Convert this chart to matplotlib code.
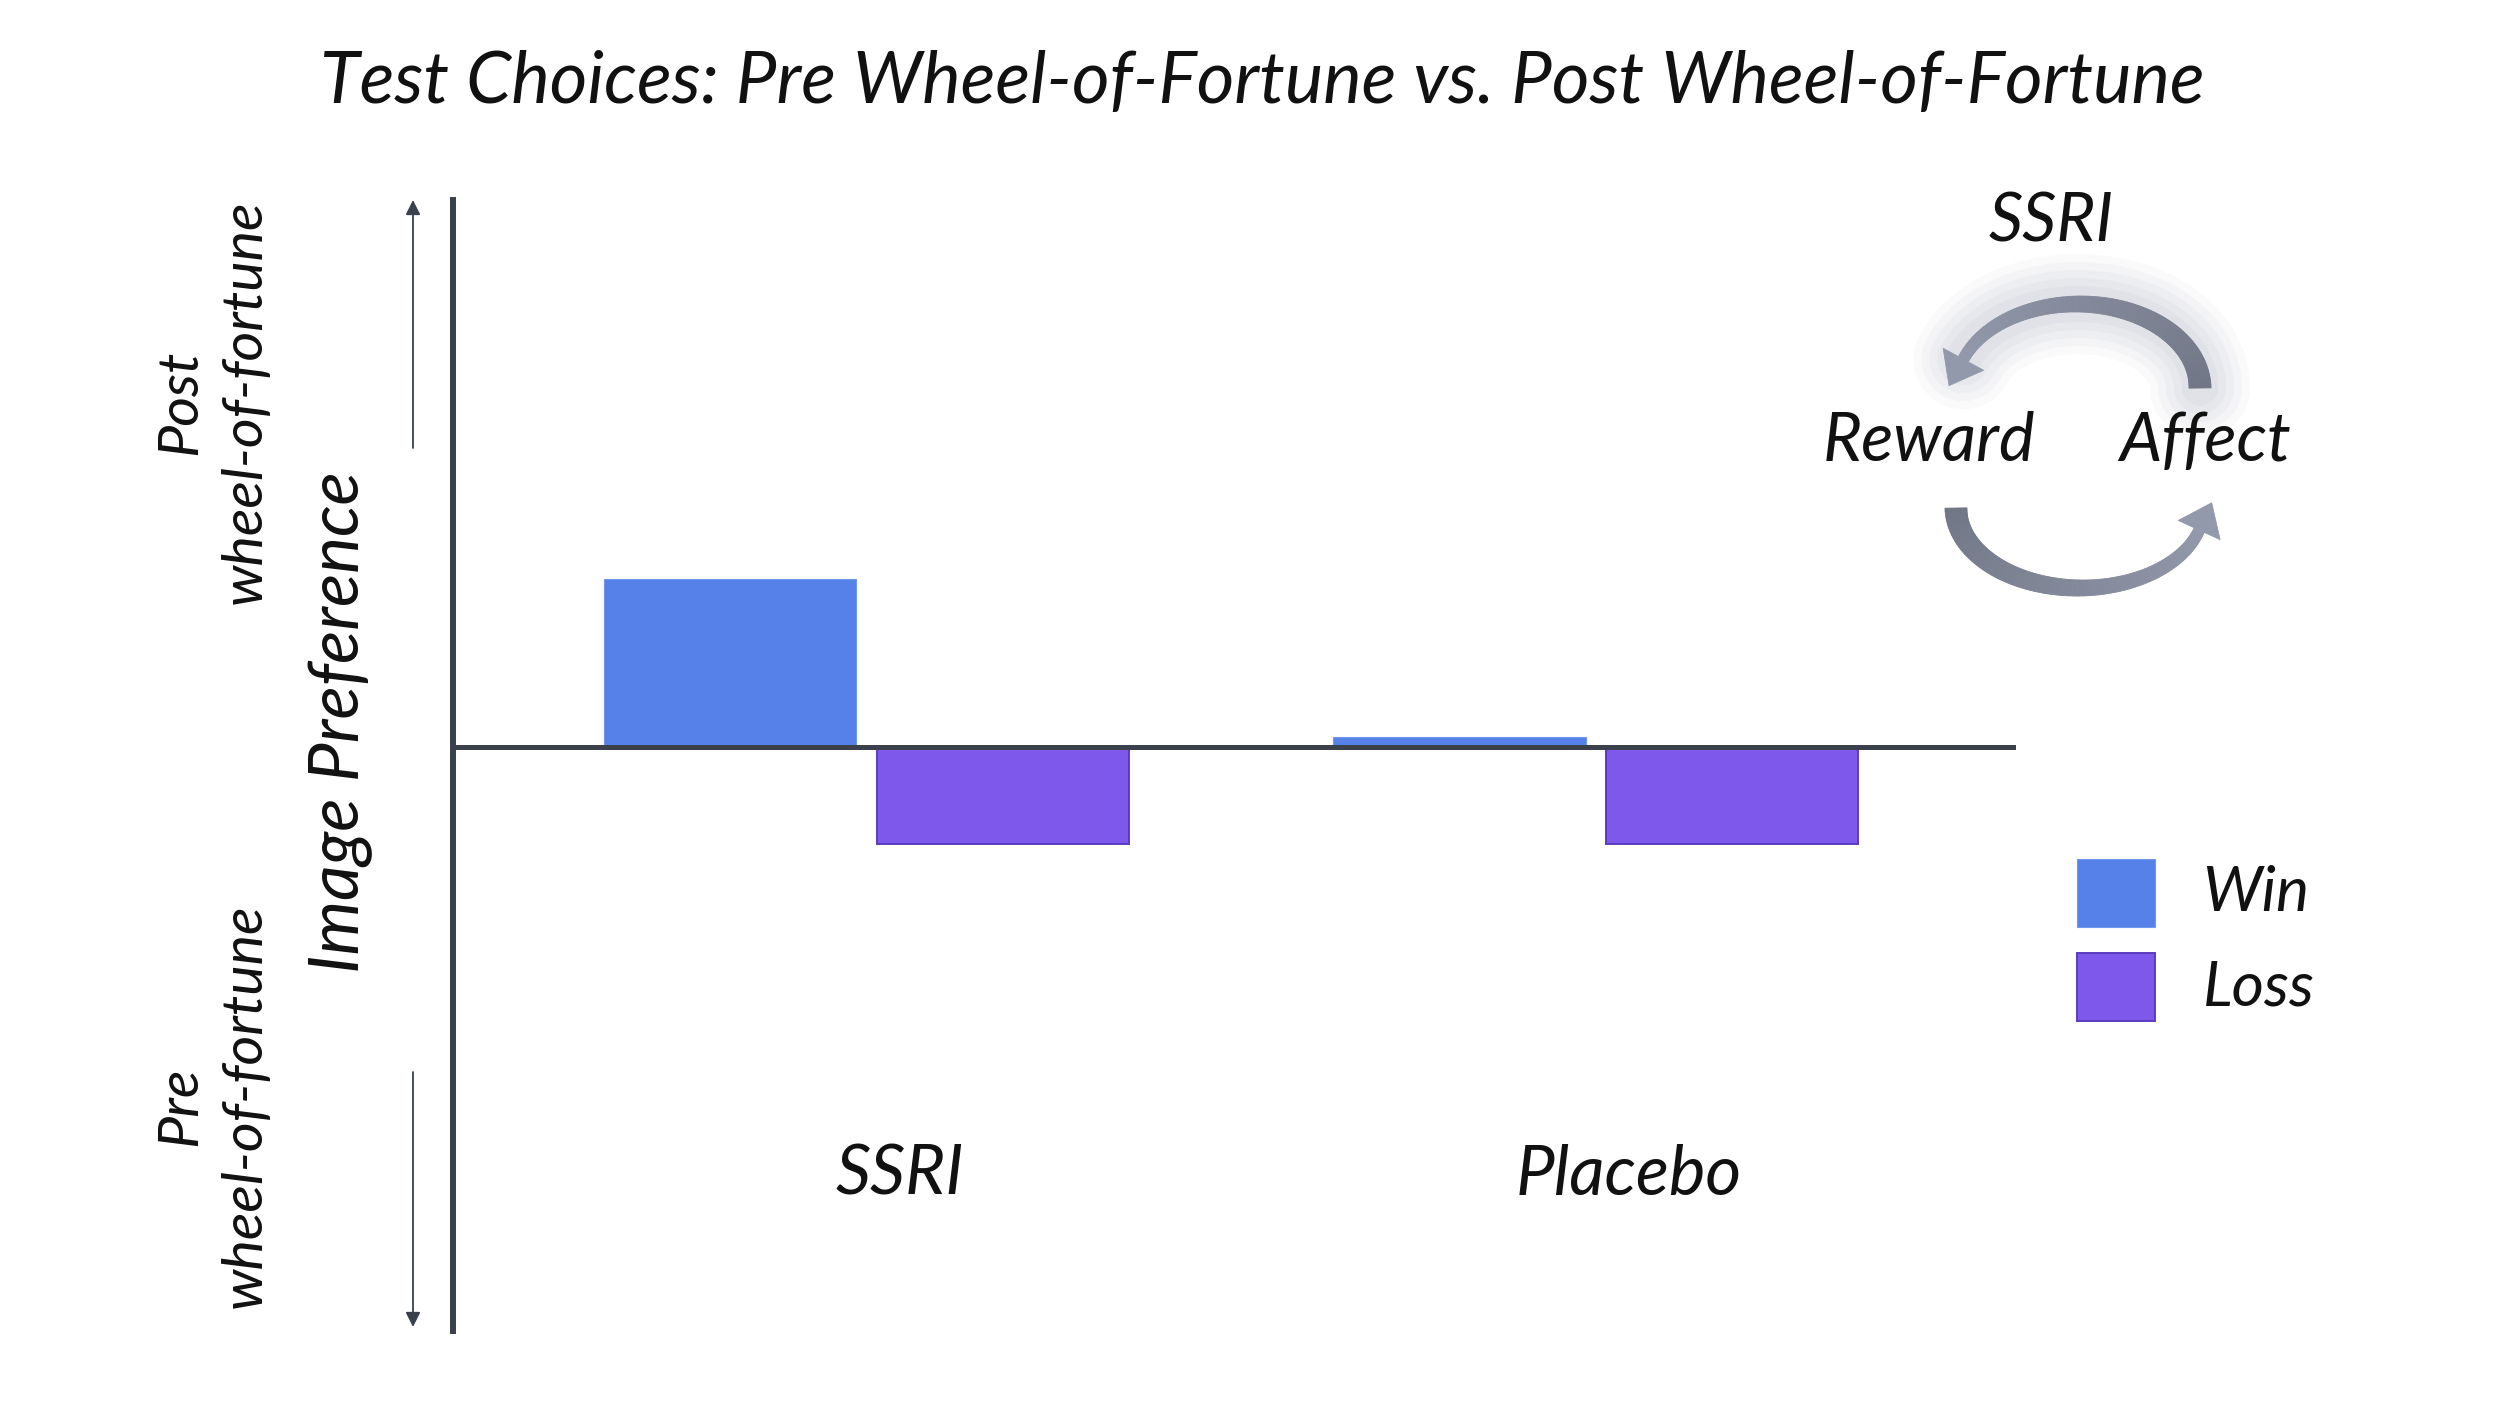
import numpy as np
import matplotlib
matplotlib.use('Agg')
import matplotlib.pyplot as plt
from matplotlib.patches import Polygon
from matplotlib.collections import PolyCollection
from matplotlib.colors import to_rgb

# ---------------- data ----------------
categories = ['SSRI', 'Placebo']
win_values = [1.0, 0.06]
loss_values = [-0.58, -0.58]
series_labels = ['Win', 'Loss']
title_text = 'Test Choices: Pre Wheel-of-Fortune vs. Post Wheel-of-Fortune'
ylabel_text = 'Image Preference'
post_label = 'Post\nwheel-of-fortune'
pre_label = 'Pre\nwheel-of-fortune'
cycle_top, cycle_left, cycle_right = 'SSRI', 'Reward', 'Affect'

# ---------------- style ----------------
W, H = 2500, 1406
FONT = ['Lato', 'DejaVu Sans']
STYLE = 'italic'
INK = '#111111'
AXC = '#3b404d'
WIN_C = '#5581e8'
LOSS_C = '#7e58ea'
LOSS_E = '#5b3cc0'
ARC_DARK = '#717686'
ARC_LIGHT = '#9299aa'

plt.rcParams['font.family'] = FONT

fig = plt.figure(figsize=(W / 100, H / 100), dpi=100)
fig.patch.set_facecolor('white')

# ---------------- main axes ----------------
L, R, T, B = 453, 2016, 200, 1331
ax = fig.add_axes([L / W, 1 - B / H, (R - L) / W, (B - T) / H])
ax.patch.set_alpha(0)
x = np.arange(len(categories))
off, bw = 0.187, 0.346
ax.bar(x - off, win_values, bw, color=WIN_C, edgecolor='#7098f0', linewidth=0.8,
       label=series_labels[0], zorder=2)
ax.bar(x + off, loss_values, bw, color=LOSS_C, edgecolor=LOSS_E, linewidth=1.4,
       label=series_labels[1], zorder=2)
ax.set_xlim(-0.567, 1.576)
ax.set_ylim(-3.476, 3.256)
ax.axhline(0, color=AXC, lw=3.6, zorder=3)
for s in ['top', 'right', 'bottom']:
    ax.spines[s].set_visible(False)
ax.spines['left'].set_color(AXC)
ax.spines['left'].set_linewidth(4.3)
ax.set_xticks([])
ax.set_yticks([])

groups = []  # list of ([(text, target length px, 'w' or 'h')], shared size?)

cat_texts = []
for i, c in enumerate(categories):
    t = ax.text(x[i] + 0.045, -2.55, c, ha='center', va='center', fontsize=40,
                color=INK, style=STYLE)
    cat_texts.append(t)
groups.append(([(cat_texts[0], 138, 'w'), (cat_texts[1], 210, 'w')], True))

yl = ax.set_ylabel(ylabel_text, fontsize=40, color=INK, style=STYLE, va='center')
ax.yaxis.set_label_coords((341 - L) / (R - L), (B - 722) / (B - T))
groups.append(([(yl, 500, 'h')], False))

# legend
leg = ax.legend(loc='upper left', bbox_to_anchor=(2077 / W, 1 - 859 / H),
                bbox_transform=fig.transFigure, frameon=False, fontsize=40,
                handlelength=1.40, handleheight=1.50, handletextpad=0.86,
                labelspacing=0.47, borderpad=0, borderaxespad=0)
for t in leg.get_texts():
    t.set_style(STYLE)
    t.set_color(INK)
lt = leg.get_texts()
groups.append(([(lt[0], 102, 'w'), (lt[1], 117, 'w')], True))

# ---------------- overlay (annotations) ----------------
ov = fig.add_axes([0, 0, 1, 1])
ov.set_xlim(0, W)
ov.set_ylim(H, 0)
ov.axis('off')
ov.patch.set_alpha(0)

# direction arrows
ov.annotate('', xy=(413, 200), xytext=(413, 448),
            arrowprops=dict(arrowstyle='-|>', color=AXC, lw=1.3, mutation_scale=22,
                            shrinkA=0, shrinkB=0))
ov.annotate('', xy=(413, 1327), xytext=(413, 1072),
            arrowprops=dict(arrowstyle='-|>', color=AXC, lw=1.3, mutation_scale=22,
                            shrinkA=0, shrinkB=0))

tp = ov.text(213, 402, post_label, rotation=90, ha='center', va='center',
             multialignment='center', fontsize=32, color=INK, style=STYLE, linespacing=1.35)
tq = ov.text(213, 1106, pre_label, rotation=90, ha='center', va='center',
             multialignment='center', fontsize=32, color=INK, style=STYLE, linespacing=1.35)
groups.append(([(tp, 405, 'h'), (tq, 405, 'h')], True))


def tapered_arc(cx, cy, rx, ry, th0, th1, w0, w1, c0, c1, lower, head_len, head_w,
                glow=False, n=160):
    th = np.radians(np.linspace(th0, th1, n))
    px = cx + rx * np.cos(th)
    py = cy + ry * np.sin(th) if lower else cy - ry * np.sin(th)
    tx, ty = np.gradient(px), np.gradient(py)
    nrm = np.hypot(tx, ty)
    tx, ty = tx / nrm, ty / nrm
    nx, ny = -ty, tx
    w = np.linspace(w0, w1, n)
    if glow:
        for lw_px, a in [(100, 0.05), (84, 0.06), (68, 0.07), (52, 0.08), (36, 0.08)]:
            ov.plot(px, py, color='#9ea4b4', lw=lw_px * 0.72, alpha=a,
                    solid_capstyle='round', zorder=1)
    ca, cb = np.array(to_rgb(c0)), np.array(to_rgb(c1))
    polys, cols = [], []
    for i in range(n - 1):
        polys.append([(px[i] + nx[i] * w[i] / 2, py[i] + ny[i] * w[i] / 2),
                      (px[i + 1] + nx[i + 1] * w[i + 1] / 2, py[i + 1] + ny[i + 1] * w[i + 1] / 2),
                      (px[i + 1] - nx[i + 1] * w[i + 1] / 2, py[i + 1] - ny[i + 1] * w[i + 1] / 2),
                      (px[i] - nx[i] * w[i] / 2, py[i] - ny[i] * w[i] / 2)])
        f = i / (n - 2)
        cols.append(tuple(ca * (1 - f) + cb * f))
    ov.add_collection(PolyCollection(polys, facecolors=cols, edgecolors=cols,
                                     linewidths=0.6, zorder=3))
    ex, ey = px[-1], py[-1]
    tip = (ex + tx[-1] * head_len, ey + ty[-1] * head_len)
    base1 = (ex + nx[-1] * head_w / 2, ey + ny[-1] * head_w / 2)
    base2 = (ex - nx[-1] * head_w / 2, ey - ny[-1] * head_w / 2)
    ov.add_patch(Polygon([base1, tip, base2], closed=True, facecolor=c1,
                         edgecolor=c1, lw=0.6, zorder=3))


# upper arc: from Affect side (right, thick) to Reward side (left, arrow)
tapered_arc(2078, 388, 122, 84, 0, 160, 22, 11, ARC_DARK, ARC_LIGHT, False, 30, 46, glow=True)
# lower arc: from Reward side (left, thick) to Affect side (right, arrow)
tapered_arc(2080, 508, 124, 80, 180, 16, 22, 11, ARC_DARK, ARC_LIGHT, True, 30, 46)

c1 = ov.text(2051, 222, cycle_top, ha='center', va='center', fontsize=40, color=INK, style=STYLE)
c2 = ov.text(1929, 442, cycle_left, ha='center', va='center', fontsize=40, color=INK, style=STYLE)
c3 = ov.text(2205, 442, cycle_right, ha='center', va='center', fontsize=40, color=INK, style=STYLE)
groups.append(([(c1, 129, 'w'), (c2, 202, 'w'), (c3, 175, 'w')], True))

st = fig.suptitle(title_text, x=1262 / W, y=1 - 82 / H, va='center', ha='center',
                  fontsize=40, color=INK, style=STYLE)
groups.append(([(st, 1880, 'w')], False))

# fit font sizes to the reference text lengths (shared size within a group)
fig.canvas.draw()
r = fig.canvas.get_renderer()
for items, shared in groups:
    sizes = []
    for t, target, dim in items:
        bb = t.get_window_extent(r)
        cur = bb.width if dim == 'w' else bb.height
        sizes.append(t.get_fontsize() * target / cur)
    if shared:
        m = float(np.mean(sizes))
        sizes = [m] * len(sizes)
    for (t, _, _), s in zip(items, sizes):
        t.set_fontsize(s)

fig.savefig('out.png', dpi=100, facecolor='white')
